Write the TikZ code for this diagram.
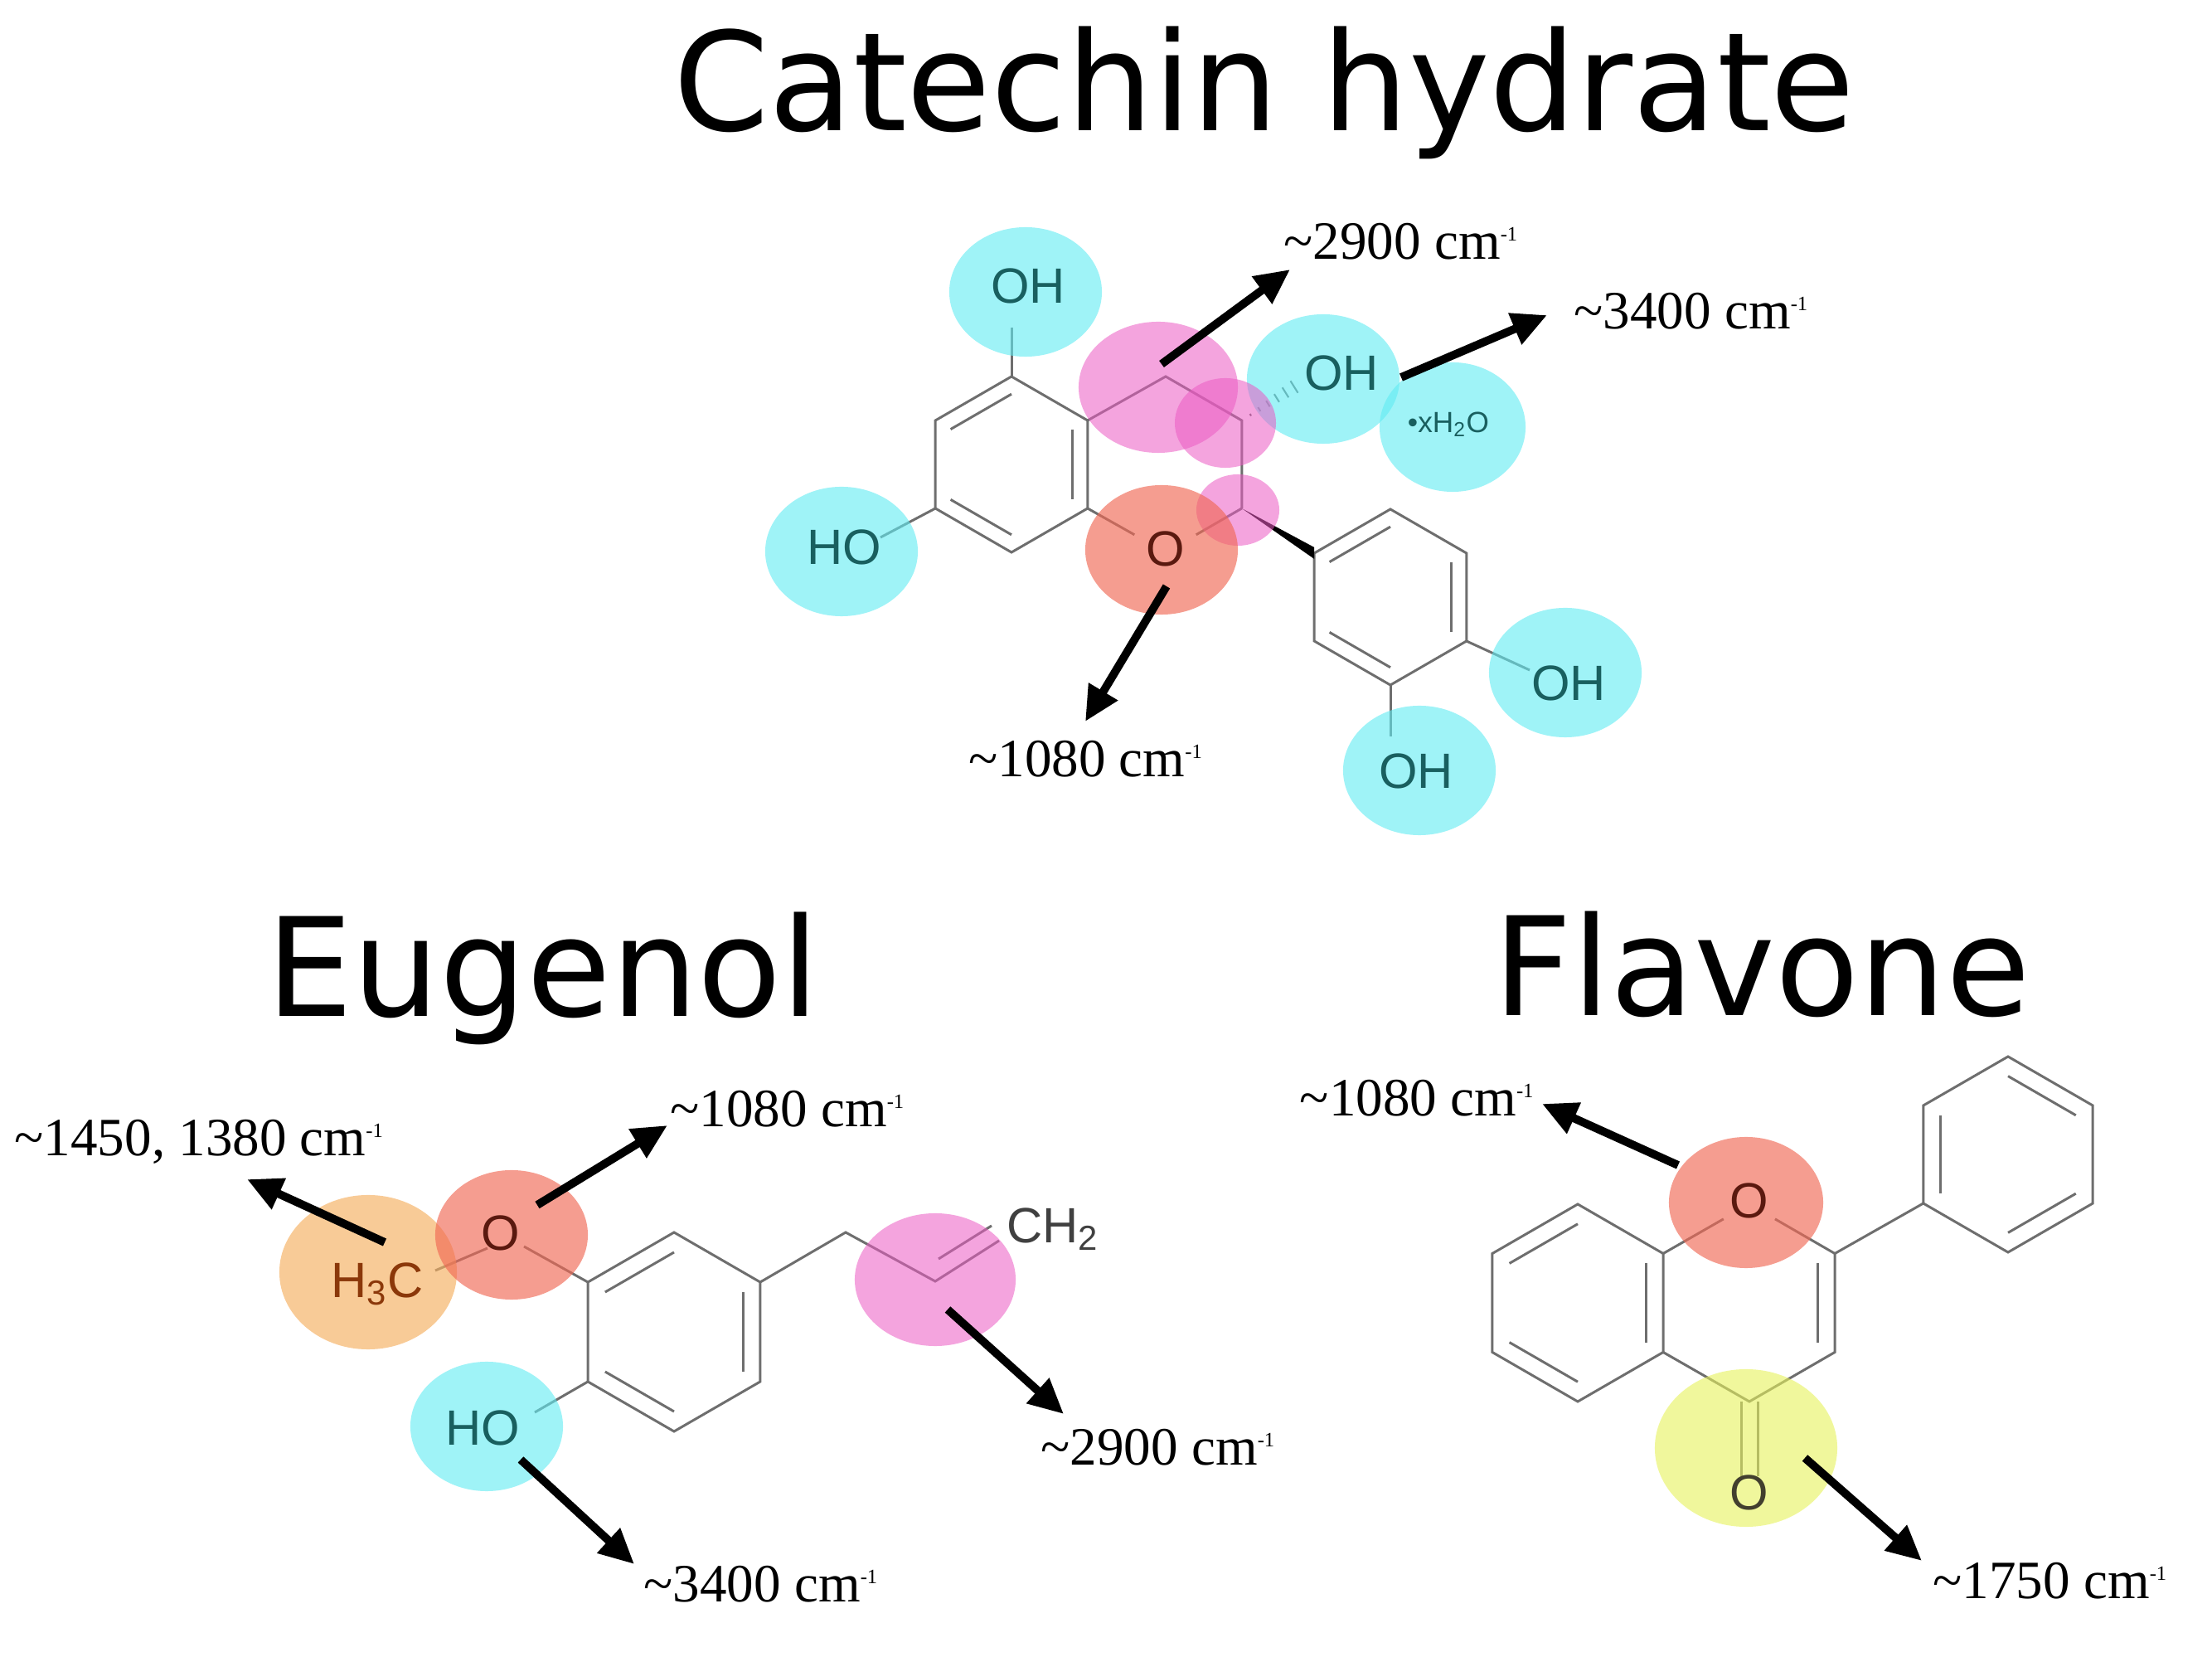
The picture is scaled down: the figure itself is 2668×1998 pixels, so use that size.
\documentclass[tikz,border=0pt]{standalone}
\usepackage{fontspec}
\setmainfont{Liberation Serif}
\newfontfamily\titlefont{DejaVu Sans}
\newfontfamily\chemfont{Liberation Sans}
\usetikzlibrary{arrows.meta,calc,shapes.geometric}
\definecolor{cyc}{RGB}{95,235,242}
\definecolor{pkc}{RGB}{235,90,195}
\definecolor{slc}{RGB}{240,105,85}
\definecolor{orc}{RGB}{245,175,95}
\definecolor{ylc}{RGB}{230,242,90}
\definecolor{bondc}{RGB}{110,110,110}
\definecolor{ohc}{RGB}{25,95,95}
\definecolor{oxc}{RGB}{90,25,15}
\newcommand\mkring[4]{%
 \coordinate (#1c) at (#2,#3);
 \coordinate (#1t) at (#2,{#3-#4});
 \coordinate (#1ur) at ({#2+0.866*#4},{#3-0.5*#4});
 \coordinate (#1lr) at ({#2+0.866*#4},{#3+0.5*#4});
 \coordinate (#1b) at (#2,{#3+#4});
 \coordinate (#1ll) at ({#2-0.866*#4},{#3+0.5*#4});
 \coordinate (#1ul) at ({#2-0.866*#4},{#3-0.5*#4});}
\newcommand\inner[3]{\draw[bond] ($(#1)!0.8!(#2)$) -- ($(#1)!0.8!(#3)$);}
\newcommand\wn{\textsuperscript{\scriptsize -1}}
\tikzset{
 bond/.style={draw=bondc,line width=0.85pt},
 blob/.style={ellipse,draw=none,minimum width=1.84cm,minimum height=1.56cm,inner sep=0},
 cy/.style={fill=cyc,fill opacity=0.6},
 pk/.style={fill=pkc,fill opacity=0.55},
 sl/.style={fill=slc,fill opacity=0.65},
 orr/.style={fill=orc,fill opacity=0.65},
 yl/.style={fill=ylc,fill opacity=0.6},
 arr/.style={line width=2.8pt,-{Triangle[length=12pt,width=11pt]}},
 lab/.style={font=\fontsize{18.5}{21}\selectfont,inner sep=0},
 ttl/.style={font=\titlefont\fontsize{47}{52}\selectfont,inner sep=0},
 atom/.style={font=\chemfont\fontsize{17}{19}\selectfont,inner sep=1pt},
}
\begin{document}
\begin{tikzpicture}[x=0.01cm,y=-0.01cm]
\useasboundingbox (0,0) rectangle (2668,1998);
% titles
\node[ttl] (t1) at (1525,112) {Catechin hydrate};
\node[ttl] (t2) at (655,1180) {Eugenol};
\node[ttl] (t3) at (2125,1163) {Flavone};

% ===== Catechin =====
\mkring{A}{1220}{560}{106}
\mkring{C}{1406}{560}{106}
\mkring{B}{1677}{720}{106}
\draw[bond] (At)--(Aur)--(Alr)--(Ab)--(All)--(Aul)--cycle;
\inner{Ac}{Aul}{At}\inner{Ac}{Aur}{Alr}\inner{Ac}{All}{Ab}
\draw[bond] (Aur)--(Ct)--(Cur)--(Clr);
\draw[bond] (Clr)--($(Clr)!0.6!(Cb)$);
\draw[bond] (Alr)--($(Alr)!0.6!(Cb)$);
\draw[bond] (Bt)--(Bur)--(Blr)--(Bb)--(Bll)--(Bul)--cycle;
\inner{Bc}{Bul}{Bt}\inner{Bc}{Bur}{Blr}\inner{Bc}{Bll}{Bb}
\fill[black] (Clr) -- ($(Bul)+(0,-7)$) -- ($(Bul)+(0,7)$) -- cycle;
\foreach \i in {0.15,0.3,...,0.95} \draw[bondc,line width=0.6pt] ($(Cur)!\i!(1568,462)+(-\i*5,-\i*8)$) -- ($(Cur)!\i!(1568,462)+(\i*5,\i*8)$);
\draw[bond] (At)--(1220,395);
\draw[bond] (All)--(1062,648);
\draw[bond] (Blr)--(1845,808);
\draw[bond] (Bb)--(1677,888);
% blobs
\node[blob,cy] (c1) at (1237,352) {};
\node[blob,cy] (c2) at (1015,665) {};
\node[blob,cy] (c3) at (1596,457) {};
\node[blob,cy,minimum width=1.76cm] (c4) at (1752,515) {};
\node[blob,cy] (c5) at (1888,811) {};
\node[blob,cy] (c6) at (1712,929) {};
\node[blob,pk,minimum width=1.92cm,minimum height=1.58cm] (p1) at (1397,467) {};
\node[blob,pk,minimum width=1.22cm,minimum height=1.08cm] (p2) at (1478,510) {};
\node[blob,pk,minimum width=1.0cm,minimum height=0.86cm] (p3) at (1493,615) {};
\node[blob,sl] (s1) at (1401,663) {};
% atoms
\node[atom,text=ohc] (oh1) at (1240,345) {OH};
\node[atom,text=ohc] (oh2) at (1018,660) {HO};
\node[atom,text=ohc] (oh3) at (1618,450) {OH};
\node[atom,text=ohc,font=\chemfont\fontsize{10}{12}\selectfont] (wat) at (1747,512) {\textbullet xH\textsubscript{2}O};
\node[atom,text=ohc] (oh4) at (1892,824) {OH};
\node[atom,text=ohc] (oh5) at (1708,930) {OH};
\node[atom,text=oxc] (o1) at (1406,662) {O};
% arrows
\node[lab,anchor=west] (l1) at (1548,291) {\textasciitilde 2900 cm\wn};
\node[lab,anchor=west] (l2) at (1898,375) {\textasciitilde 3400 cm\wn};
\node[lab] (l3) at (1310,915) {\textasciitilde 1080 cm\wn};
\coordinate (a1s) at (1401,439); \coordinate (a1e) at (1556,325);
\coordinate (a2s) at (1690,455); \coordinate (a2e) at (1866,380);
\coordinate (a3s) at (1407,707); \coordinate (a3e) at (1309,870);
\draw[arr] (a1s)--(a1e); \draw[arr] (a2s)--(a2e); \draw[arr] (a3s)--(a3e);

% ===== Eugenol =====
\mkring{E}{813}{1606}{120}
\draw[bond] (Et)--(Eur)--(Elr)--(Eb)--(Ell)--(Eul)--cycle;
\inner{Ec}{Eul}{Et}\inner{Ec}{Eur}{Elr}\inner{Ec}{Ell}{Eb}
\draw[bond] (Eul)--(632,1503);
\draw[bond] (588,1505)--(525,1532);
\draw[bond] (Ell)--(645,1703);
\draw[bond] (Eur)--(1020,1486)--(1128,1545)--(1205,1496);
\draw[bond] (1132,1518)--(1196,1478);
\node[blob,orr,minimum width=2.14cm,minimum height=1.86cm] (e1) at (444,1534) {};
\node[blob,sl] (e2) at (617,1489) {};
\node[blob,cy] (e3) at (587,1720) {};
\node[blob,pk,minimum width=1.94cm,minimum height=1.6cm] (e4) at (1128,1543) {};
\node[atom,text=oxc] (eo) at (604,1487) {O};
\node[atom,text=oxc!70!orange] (eme) at (455,1548) {H\textsubscript{3}C};
\node[atom,text=black!75] (ech) at (1270,1482) {CH\textsubscript{2}};
\node[atom,text=ohc] (eho) at (582,1722) {HO};
\node[lab,anchor=west] (el1) at (17,1377) {\textasciitilde 1450, 1380 cm\wn};
\node[lab,anchor=west] (el2) at (808,1337) {\textasciitilde 1080 cm\wn};
\node[lab,anchor=west] (el3) at (1255,1745) {\textasciitilde 2900 cm\wn};
\node[lab,anchor=west] (el4) at (776,1910) {\textasciitilde 3400 cm\wn};
\coordinate (b1s) at (464,1498); \coordinate (b1e) at (298,1422);
\coordinate (b2s) at (648,1453); \coordinate (b2e) at (805,1357);
\coordinate (b3s) at (1143,1579); \coordinate (b3e) at (1283,1705);
\coordinate (b4s) at (628,1760); \coordinate (b4e) at (765,1886);
\draw[arr] (b1s)--(b1e); \draw[arr] (b2s)--(b2e); \draw[arr] (b3s)--(b3e); \draw[arr] (b4s)--(b4e);

% ===== Flavone =====
\mkring{F}{1903}{1571}{119}
\mkring{G}{2110}{1571}{119}
\mkring{P}{2422}{1392}{118}
\draw[bond] (Ft)--(Fur)--(Flr)--(Fb)--(Fll)--(Ful)--cycle;
\inner{Fc}{Ful}{Ft}\inner{Fc}{Fur}{Flr}\inner{Fc}{Fll}{Fb}
\draw[bond] (Fur)--($(Fur)!0.7!(Gt)$);
\draw[bond] ($(Gt)!0.3!(Gur)$)--(Gur)--(Glr)--(Gb)--(Flr);
\inner{Gc}{Gur}{Glr}
\draw[bond] ($(Gb)+(-10,0)$)--(2100,1780);
\draw[bond] ($(Gb)+(10,0)$)--(2120,1780);
\draw[bond] (Gur)--(Pll);
\draw[bond] (Pt)--(Pur)--(Plr)--(Pb)--(Pll)--(Pul)--cycle;
\inner{Pc}{Pt}{Pur}\inner{Pc}{Pul}{Pll}\inner{Pc}{Plr}{Pb}
\node[blob,sl,minimum width=1.86cm,minimum height=1.58cm] (f1) at (2106,1450) {};
\node[blob,yl,minimum width=2.2cm,minimum height=1.9cm] (f2) at (2106,1746) {};
\node[atom,text=oxc] (fo1) at (2110,1448) {O};
\node[atom,text=black!70!olive] (fo2) at (2110,1800) {O};
\node[lab,anchor=east] (fl1) at (1852,1324) {\textasciitilde 1080 cm\wn};
\node[lab,anchor=west] (fl2) at (2331,1906) {\textasciitilde 1750 cm\wn};
\coordinate (c1s) at (2024,1405); \coordinate (c1e) at (1860,1331);
\coordinate (c2s) at (2177,1758); \coordinate (c2e) at (2318,1882);
\draw[arr] (c1s)--(c1e); \draw[arr] (c2s)--(c2e);
\end{tikzpicture}
\end{document}
